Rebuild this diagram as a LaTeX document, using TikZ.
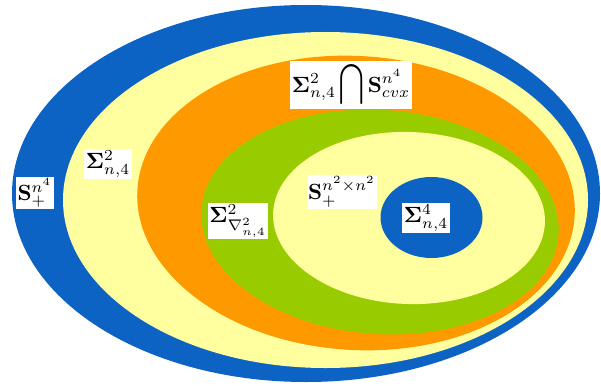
\documentclass[tikz,border=0pt]{standalone}
\usepackage{amsmath}
\usepackage{graphicx}
\definecolor{cblue}{RGB}{12,99,196}
\definecolor{cyel}{RGB}{255,255,160}
\definecolor{corange}{RGB}{255,153,0}
\definecolor{cgreen}{RGB}{153,204,0}
\newcommand{\bigtxt}[1]{\scalebox{2.2}{#1}}
\tikzset{
  lbl/.style={fill=white, inner sep=1.5pt}
}
\begin{document}
\begin{tikzpicture}[x=1pt,y=-1pt]
\useasboundingbox (0,0) rectangle (601,385);
\fill[white] (0,0) rectangle (601,385);
\fill[cblue]   (306,193.5) ellipse [x radius=294pt, y radius=188.5pt];
\fill[cyel]    (325.5,200) ellipse [x radius=262.5pt, y radius=168pt];
\fill[corange, rotate around={-3.5:(356,203)}] (356,203) ellipse [x radius=219pt, y radius=147pt];
\fill[cgreen, rotate around={-4:(380,222)}]  (380,222) ellipse [x radius=179pt, y radius=112pt];
\fill[cyel, rotate around={-2:(409,218)}]    (409,218) ellipse [x radius=136pt, y radius=86pt];
\fill[cblue]   (431.5,217.5) ellipse [x radius=51pt, y radius=40.5pt];
\node[lbl] (splus) at (35,193) {\bigtxt{$\mathbf{S}_+^{n^4}$}};
\node[lbl] (sig2) at (108,164) {\bigtxt{$\mathbf{\Sigma}^2_{n,4}$}};
\node[lbl] (cvx) at (351,85) {\bigtxt{$\displaystyle\mathbf{\Sigma}^2_{n,4}\mathop{\scalebox{1}[1.3]{$\displaystyle\bigcap$}}\mathbf{S}^{n^4}_{cvx}$}};
\node[lbl] (nab) at (238,221) {\bigtxt{$\mathbf{\Sigma}^2_{\nabla^2_{n,4}}$}};
\node[lbl] (spsd) at (342,192) {\bigtxt{$\mathbf{S}_+^{n^2\times n^2}$}};
\node[lbl] (sig4) at (426,218) {\bigtxt{$\mathbf{\Sigma}^4_{n,4}$}};
\end{tikzpicture}
\end{document}
